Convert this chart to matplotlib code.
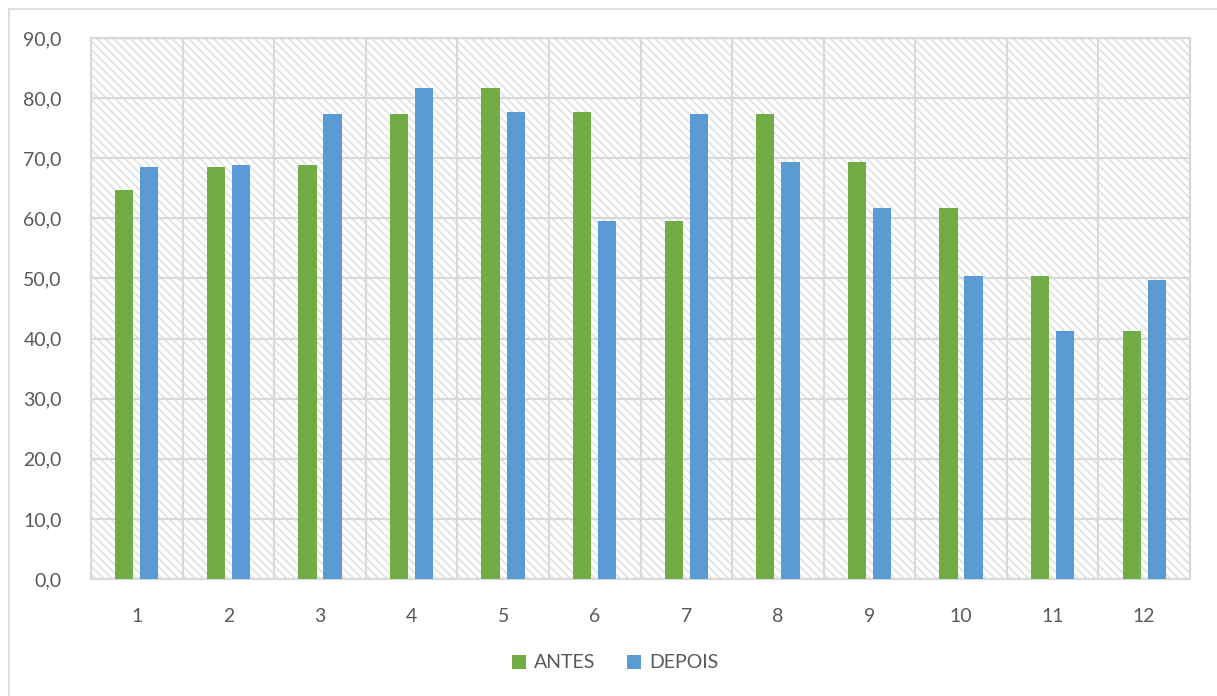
import numpy as np
import matplotlib.pyplot as plt
from matplotlib.patches import Rectangle
from matplotlib.lines import Line2D
from matplotlib.ticker import FuncFormatter, MultipleLocator

plt.rcParams['font.family'] = ['Lato', 'DejaVu Sans']
plt.rcParams['hatch.linewidth'] = 1.3

categorias = ['1', '2', '3', '4', '5', '6', '7', '8', '9', '10', '11', '12']
antes = [64.7, 68.5, 68.8, 77.3, 81.7, 77.7, 59.6, 77.3, 69.4, 61.7, 50.4, 41.3]
depois = [68.5, 68.8, 77.3, 81.7, 77.7, 59.6, 77.3, 69.4, 61.7, 50.4, 41.3, 49.7]

verde = '#70ad47'
azul = '#5b9bd5'
cinza = '#d9d9d9'
texto = '#595959'

fig = plt.figure(figsize=(12.17, 6.96), dpi=100)
ax = fig.add_axes([91 / 1217, 117 / 696, 1099 / 1217, 541 / 696])

x = np.arange(1, len(categorias) + 1)
largura = 0.2
desloc = 0.137

# fundo listrado da area de plotagem
ax.add_patch(Rectangle((0, 0), 1, 1, transform=ax.transAxes, facecolor='white',
                       edgecolor='#e2e2e2', linewidth=0, hatch='\\\\\\\\', zorder=0))

ax.bar(x - desloc, antes, largura, color=verde, label='ANTES', zorder=3)
ax.bar(x + desloc, depois, largura, color=azul, label='DEPOIS', zorder=3)

ax.set_xlim(0.5, len(categorias) + 0.5)
ax.set_ylim(0, 90)
ax.set_xticks(x)
ax.set_xticklabels(categorias)
ax.set_xticks(np.arange(0.5, len(categorias) + 1, 1), minor=True)
ax.yaxis.set_major_locator(MultipleLocator(10))
ax.yaxis.set_major_formatter(FuncFormatter(lambda v, p: f'{v:.1f}'.replace('.', ',')))

ax.grid(True, which='minor', axis='x', color=cinza, linewidth=1.6, zorder=1)
ax.grid(True, which='major', axis='y', color=cinza, linewidth=1.6, zorder=1)
ax.set_axisbelow(True)

for s in ax.spines.values():
    s.set_color(cinza)
    s.set_linewidth(1.6)

ax.tick_params(which='both', length=0)
ax.tick_params(axis='y', pad=21, labelsize=14, labelcolor=texto)
ax.tick_params(axis='x', pad=21, labelsize=14, labelcolor=texto)

fig.legend(loc='center', bbox_to_anchor=(615 / 1217, 1 - 663 / 696), ncol=2,
           frameon=False, fontsize=14, labelcolor=texto, handlelength=0.75,
           handleheight=0.75, handletextpad=0.4, columnspacing=1.6)

# moldura do grafico
fig.add_artist(Line2D([9 / 1217, 1], [1 - 9 / 696, 1 - 9 / 696], color=cinza, linewidth=1.2))
fig.add_artist(Line2D([9 / 1217, 9 / 1217], [0, 1 - 9 / 696], color=cinza, linewidth=1.2))

fig.savefig('out.png', dpi=100)
